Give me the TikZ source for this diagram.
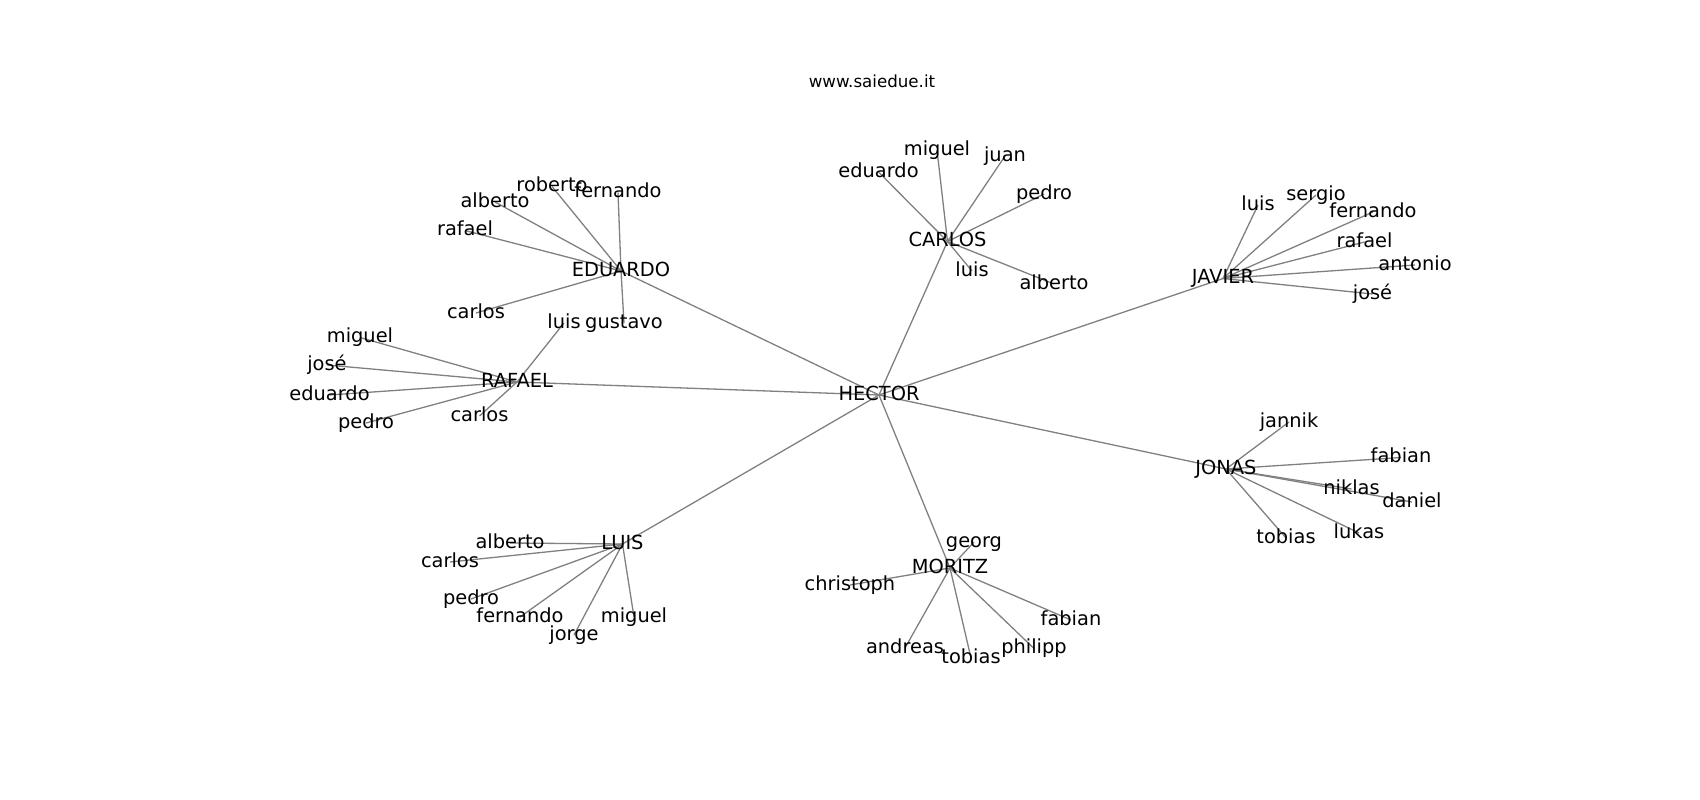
\documentclass[tikz,border=0pt]{standalone}
\usepackage{fontspec}
\setmainfont{DejaVu Sans}
\usetikzlibrary{backgrounds}
\newcommand{\lblfont}{\fontsize{19.4}{23}\selectfont}
\newcommand{\ttlfont}{\fontsize{16.67}{20}\selectfont}
\tikzset{
  lbl/.style={inner sep=0pt, anchor=center, font=\lblfont, text height=14.74pt, text depth=4.04pt},
  edge/.style={draw=black!50, line width=1.3pt},
}
\begin{document}
\begin{tikzpicture}[x=1pt,y=-1pt]
\useasboundingbox (0,0) rectangle (1700,800);
\node[anchor=base, font=\ttlfont, inner sep=0pt] (title) at (872,87.5) {www.saiedue.it};
% hub
\node[lbl] (HECTOR) at (879,395) {HECTOR};
% EDUARDO group
\node[lbl] (EDUARDO) at (621,271) {EDUARDO};
\node[lbl] (e-roberto) at (552,186.5) {roberto};
\node[lbl] (e-fernando) at (618,192.5) {fernando};
\node[lbl] (e-alberto) at (495,202) {alberto};
\node[lbl] (e-rafael) at (465,230.5) {rafael};
\node[lbl] (e-carlos) at (476,313) {carlos};
\node[lbl] (e-gustavo) at (624,323) {gustavo};
% RAFAEL group
\node[lbl] (RAFAEL) at (517,382) {RAFAEL};
\node[lbl] (r-luis) at (564,323) {luis};
\node[lbl] (r-miguel) at (360,337.5) {miguel};
\node[lbl] (r-jose) at (327,365) {josé};
\node[lbl] (r-eduardo) at (329.5,395) {eduardo};
\node[lbl] (r-pedro) at (366,423) {pedro};
\node[lbl] (r-carlos) at (479.5,416) {carlos};
% CARLOS group
\node[lbl] (CARLOS) at (947.5,241.5) {CARLOS};
\node[lbl] (c-miguel) at (937,150) {miguel};
\node[lbl] (c-juan) at (1005,156) {juan};
\node[lbl] (c-eduardo) at (878.5,172) {eduardo};
\node[lbl] (c-pedro) at (1044,194) {pedro};
\node[lbl] (c-luis) at (972,271) {luis};
\node[lbl] (c-alberto) at (1054,284) {alberto};
% JAVIER group
\node[lbl] (JAVIER) at (1223,278.5) {JAVIER};
\node[lbl] (j-luis) at (1258,205) {luis};
\node[lbl] (j-sergio) at (1316,195) {sergio};
\node[lbl] (j-fernando) at (1373,212) {fernando};
\node[lbl] (j-rafael) at (1364.5,242) {rafael};
\node[lbl] (j-antonio) at (1415,265) {antonio};
\node[lbl] (j-jose) at (1372.5,294) {josé};
% JONAS group
\node[lbl] (JONAS) at (1226,469) {JONAS};
\node[lbl] (o-jannik) at (1289,422) {jannik};
\node[lbl] (o-fabian) at (1401,457.5) {fabian};
\node[lbl] (o-niklas) at (1351.5,489) {niklas};
\node[lbl] (o-daniel) at (1412,502) {daniel};
\node[lbl] (o-tobias) at (1286,538) {tobias};
\node[lbl] (o-lukas) at (1359,533) {lukas};
% LUIS group
\node[lbl] (LUIS) at (622.5,544) {LUIS};
\node[lbl] (l-alberto) at (510,543) {alberto};
\node[lbl] (l-carlos) at (450,562) {carlos};
\node[lbl] (l-pedro) at (471,599) {pedro};
\node[lbl] (l-fernando) at (520,617) {fernando};
\node[lbl] (l-miguel) at (634,617) {miguel};
\node[lbl] (l-jorge) at (574,635) {jorge};
% MORITZ group
\node[lbl] (MORITZ) at (950,568) {MORITZ};
\node[lbl] (m-georg) at (974,542) {georg};
\node[lbl] (m-christoph) at (850,585) {christoph};
\node[lbl] (m-fabian) at (1071,620) {fabian};
\node[lbl] (m-andreas) at (905,648) {andreas};
\node[lbl] (m-tobias) at (971,658) {tobias};
\node[lbl] (m-philipp) at (1034,648.5) {philipp};
\begin{scope}[on background layer]
  \foreach \g in {EDUARDO,RAFAEL,CARLOS,JAVIER,JONAS,LUIS,MORITZ}
    \draw[edge] (HECTOR.center) -- (\g.center);
  \foreach \n in {e-roberto,e-fernando,e-alberto,e-rafael,e-carlos,e-gustavo}
    \draw[edge] (EDUARDO.center) -- (\n.center);
  \foreach \n in {r-luis,r-miguel,r-jose,r-eduardo,r-pedro,r-carlos}
    \draw[edge] (RAFAEL.center) -- (\n.center);
  \foreach \n in {c-miguel,c-juan,c-eduardo,c-pedro,c-luis,c-alberto}
    \draw[edge] (CARLOS.center) -- (\n.center);
  \foreach \n in {j-luis,j-sergio,j-fernando,j-rafael,j-antonio,j-jose}
    \draw[edge] (JAVIER.center) -- (\n.center);
  \foreach \n in {o-jannik,o-fabian,o-niklas,o-daniel,o-tobias,o-lukas}
    \draw[edge] (JONAS.center) -- (\n.center);
  \foreach \n in {l-alberto,l-carlos,l-pedro,l-fernando,l-miguel,l-jorge}
    \draw[edge] (LUIS.center) -- (\n.center);
  \foreach \n in {m-georg,m-christoph,m-fabian,m-andreas,m-tobias,m-philipp}
    \draw[edge] (MORITZ.center) -- (\n.center);
\end{scope}
\end{tikzpicture}
\end{document}
